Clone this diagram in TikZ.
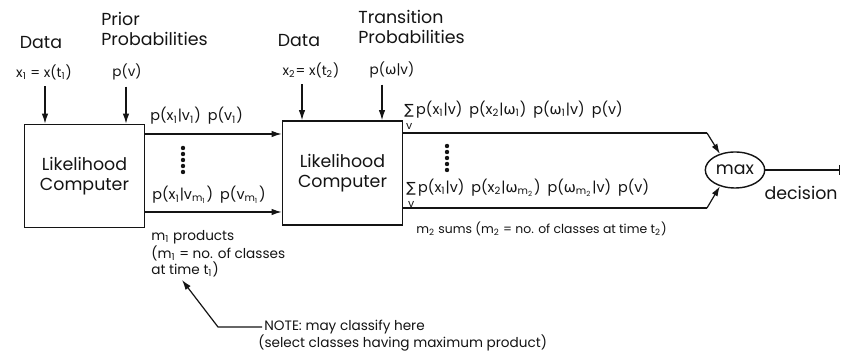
\documentclass[tikz,border=0pt]{standalone}
\usepackage{fontspec}
\setmainfont{Poppins}
\newfontfamily\greekfont{DejaVu Sans}
\usetikzlibrary{arrows.meta,shapes.geometric}
\definecolor{cInk}{RGB}{20,20,20}
\definecolor{cBg} {RGB}{255,255,255}
\newcommand{\lo}[1]{\textsubscript{#1}}
\newcommand{\om}{{\greekfont ω}}
\newcommand{\gap}{\hspace{3.5pt}}
\newcommand{\sumv}{\ensuremath{\mathop{\hbox{\greekfont\fontsize{7}{7}\selectfont ∑}}\limits_{\hbox{\fontsize{5.5}{5.5}\selectfont v}}}}
\newcommand{\dotcol}[2]{%
  \foreach \k in {0,...,4}
    \fill[cInk] (#1,#2+6*\k) circle (1.1pt);
}
\tikzset{
  bigtxt/.style={font=\fontsize{8.7}{10}\selectfont,text=cInk,inner sep=1pt},
  smalltxt/.style={font=\fontsize{6.8}{8}\selectfont,text=cInk,inner sep=1pt},
  probtxt/.style={font=\fontsize{7.2}{8}\selectfont,text=cInk,inner sep=1pt},
  lcbox/.style={draw=cInk,line width=0.8pt,minimum width=60pt,
    minimum height=51.5pt,align=center,bigtxt},
  arr/.style={-{Latex[length=5pt,width=3.2pt]},line width=0.6pt,draw=cInk},
  wire/.style={line width=0.6pt,draw=cInk},
}

\begin{document}
\begin{tikzpicture}[x=0.5pt,y=-0.5pt]

% fondo
\fill[cBg] (0,0) rectangle (841,356);
\useasboundingbox (0,0) rectangle (841,356);

% =================== ETAPA 1 ===================
\node[lcbox] (lc1) at (84.5,176) {Likelihood\\Computer};

\node[bigtxt] (dat1) at (41,43) {Data};
\node[smalltxt] (x1) at (44,72) {x\lo{1} = x(t\lo{1})};
\node[bigtxt,align=left,anchor=north west] (prior) at (99,10) {Prior\\Probabilities};
\node[smalltxt] (pv) at (127,72) {p(v)};

\draw[arr] ([yshift=-2pt]x1.south -| 45,0) -- (lc1.north -| 45,0);
\draw[arr] ([yshift=-2pt]pv.south -| 126,0) -- (lc1.north -| 126,0);

% salidas de la etapa 1
\coordinate (y1a) at (0,134);
\coordinate (y1b) at (0,212);
\node[probtxt,anchor=west] (p11) at (148,116) {p(x\lo{1}|v\lo{1})\gap p(v\lo{1})};
\node[probtxt,anchor=west] (p1m) at (150,195) {p(x\lo{1}|v\lo{m\lo{1}})\gap p(v\lo{m\lo{1}})};
\dotcol{183}{148}

\node[smalltxt,align=left,anchor=north west] (m1) at (149,228)
  {m\lo{1} products\\(m\lo{1} = no. of classes\\at time t\lo{1})};

% =================== ETAPA 2 ===================
\node[lcbox,minimum height=52pt] (lc2) at (342.5,173) {Likelihood\\Computer};

\draw[arr] (lc1.east |- y1a) -- (lc2.west |- y1a);
\draw[arr] (lc1.east |- y1b) -- (lc2.west |- y1b);

\node[bigtxt] (dat2) at (299,41) {Data};
\node[smalltxt] (x2) at (311,70) {x\lo{2}= x(t\lo{2})};
\node[bigtxt,align=left,anchor=north west] (trans) at (356,8) {Transition\\Probabilities};
\node[smalltxt] (pw) at (392,70) {p(\om|v)};

\draw[arr] ([yshift=-2pt]x2.south -| 302,0) -- (lc2.north -| 302,0);
\draw[arr] ([yshift=-2pt]pw.south -| 382,0) -- (lc2.north -| 382,0);

% salidas de la etapa 2
\coordinate (y2a) at (0,133);
\coordinate (y2b) at (0,208);
\node[probtxt,anchor=west] (s1) at (402,116)
  {\sumv\,p(x\lo{1}|v)\gap p(x\lo{2}|\om\lo{1})\gap p(\om\lo{1}|v)\gap p(v)};
\node[probtxt,anchor=west] (sm) at (404,194)
  {\sumv\,p(x\lo{1}|v)\gap p(x\lo{2}|\om\lo{m\lo{2}})\gap p(\om\lo{m\lo{2}}|v)\gap p(v)};
\dotcol{447}{146}

\node[smalltxt,font=\fontsize{6.2}{8}\selectfont,anchor=west] (m2) at (414,229)
  {m\lo{2} sums (m\lo{2} = no. of classes at time t\lo{2})};

% =================== MAX ===================
\node[draw=cInk,line width=0.7pt,ellipse,minimum width=25pt,minimum height=18pt,
  inner sep=0pt,bigtxt] (mx) at (735,170) {max};

\coordinate (k1) at (707,133);
\coordinate (k2) at (707,208);
\draw[wire] (lc2.east |- y2a) -- (k1);
\draw[arr] (k1) -- (mx.133);
\draw[wire] (lc2.east |- y2b) -- (k2);
\draw[arr] (k2) -- (mx.227);

\coordinate (dec) at (840,170);
\draw[wire,-{Bar[width=5pt]}] (mx.east) -- (dec);
\node[bigtxt,anchor=east] (decl) at (840,193) {decision};

% =================== NOTA ===================
\node[smalltxt,anchor=west] (note1) at (262,327) {NOTE: may classify here};
\node[smalltxt,anchor=west] (note2) at (256,343) {(select classes having maximum product)};
\coordinate (knee) at (218,327);
\coordinate (tip) at (182,280);
\draw[arr] (note1.west) -- (knee) -- (tip);

\end{tikzpicture}
\end{document}
